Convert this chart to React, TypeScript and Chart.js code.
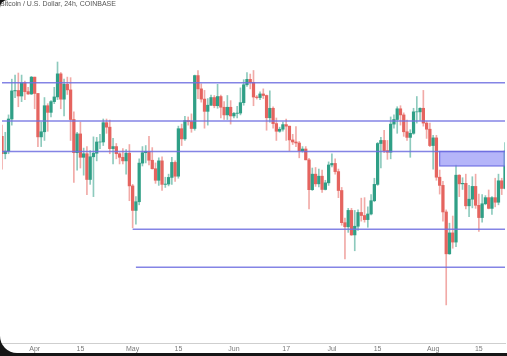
import React, { useEffect, useRef } from 'react';
import { Chart, registerables } from 'chart.js';

Chart.register(...registerables);

const TITLE = 'Bitcoin / U.S. Dollar, 24h, COINBASE';
const START_DATE = '2024-03-22';
const DAY_COUNT = 155;

// Daily OHLC, Mar 22 .. Aug 23
const opens = [
  65500, 63800, 64050, 67200, 69950, 69990, 69450, 70750, 69880, 69650,
  71300, 69700, 65450, 65950, 68500, 67850, 68900, 69360, 71620, 69140,
  70600, 70050, 67150, 63900, 65740, 63450, 63800, 61280, 63500, 63850,
  64950, 64950, 66840, 66400, 64300, 64500, 63800, 63450, 63100, 63850,
  60650, 58250, 59100, 62880, 63900, 64030, 63160, 62330, 61200, 63100,
  60800, 60830, 61480, 62950, 61600, 66250, 65250, 67050, 66950, 66270,
  71450, 70150, 69150, 67950, 68550, 69300, 68500, 69400, 68350, 67600,
  68350, 67500, 67750, 67780, 68800, 70550, 71080, 70780, 69350, 69300,
  69650, 69500, 67320, 68250, 66750, 66000, 66200, 66650, 66500, 65150,
  64950, 64850, 64100, 64260, 63200, 60280, 61800, 60850, 61600, 60300,
  60950, 62700, 62850, 62050, 60200, 57050, 56650, 58250, 55850, 56700,
  58050, 57750, 57350, 57900, 59200, 60800, 64800, 65100, 64100, 63950,
  66700, 67150, 68200, 67600, 65950, 65400, 65800, 67900, 67900, 68250,
  66800, 66200, 64600, 65350, 61500, 60700, 58100, 54000, 56050, 55150,
  61700, 60850, 60900, 58700, 59350, 60600, 58750, 57550, 58900, 59500,
  58450, 59500, 59050, 61150, 60400,
];
const highs = [
  66600, 65900, 67600, 71100, 71500, 71700, 71500, 70900, 70300, 71370,
  71300, 69700, 66900, 69300, 68700, 69000, 70300, 72780, 71750, 71100,
  71300, 71250, 67900, 65900, 66900, 64350, 64500, 64100, 65450, 65400,
  65700, 67200, 67200, 67100, 65300, 64800, 63900, 64300, 64200, 64700,
  60800, 59600, 63300, 64500, 64600, 65500, 64400, 62900, 63400, 63500,
  61500, 61800, 63450, 63100, 66500, 66700, 67450, 67400, 67700, 71500,
  71950, 70650, 70000, 69200, 69550, 69500, 70600, 69550, 68900, 69500,
  69000, 67850, 68450, 70250, 71050, 71750, 71600, 71950, 69500, 69850,
  70150, 69550, 69950, 68400, 67300, 66400, 66900, 67200, 66500, 65700,
  66450, 65000, 64500, 64500, 63350, 62400, 62450, 62300, 62200, 61200,
  63000, 63800, 63300, 62300, 60500, 57500, 58450, 58450, 58250, 58300,
  59450, 59500, 58600, 59800, 61400, 64900, 65400, 66100, 65100, 67400,
  67600, 68400, 68500, 67800, 67100, 66150, 68250, 69400, 68300, 70000,
  66950, 66800, 65600, 65600, 62200, 61100, 58300, 57000, 57700, 62700,
  61750, 61450, 61800, 60700, 61550, 61800, 59850, 59800, 59700, 60250,
  59600, 61400, 61800, 61400, 64900,
];
const lows = [
  62300, 63300, 63800, 66600, 69300, 68400, 68900, 69100, 69600, 69600,
  68200, 64500, 64500, 65100, 66000, 67400, 68700, 69100, 68200, 67500,
  69600, 65100, 61000, 62200, 62400, 61700, 59800, 60800, 59600, 63100,
  64300, 64600, 65800, 63800, 62800, 63300, 62800, 62800, 61800, 59200,
  56550, 56900, 58800, 62600, 62900, 62700, 62300, 60900, 60700, 60200,
  60500, 60650, 60800, 61100, 61400, 64600, 65100, 66600, 65900, 66100,
  69200, 68850, 66300, 66600, 68500, 68300, 68250, 67300, 67150, 67150,
  66700, 67300, 67300, 67600, 68550, 70400, 70150, 68500, 69150, 69100,
  69200, 66100, 66900, 66300, 65100, 65900, 66000, 65100, 64100, 64700,
  64500, 63400, 63950, 63200, 58400, 60200, 60600, 60550, 60000, 60250,
  60700, 62500, 61800, 59500, 56800, 53500, 56100, 55800, 54300, 56300,
  57200, 57100, 56600, 57800, 59100, 60700, 62400, 63900, 63250, 63300,
  66300, 65800, 66600, 65500, 65100, 63450, 65700, 66800, 67050, 66500,
  65300, 64500, 62300, 61200, 59850, 57200, 49000, 53950, 54550, 54700,
  59600, 60300, 58400, 57650, 58500, 58450, 56200, 57100, 58800, 58400,
  57850, 58600, 58800, 59800, 60350,
];
const closes = [
  63800, 64050, 67200, 69950, 69990, 69450, 70750, 69880, 69650, 71300,
  69700, 65450, 65950, 68500, 67850, 68900, 69360, 71620, 69140, 70600,
  70050, 67150, 63900, 65740, 63450, 63800, 61280, 63500, 63850, 64950,
  64950, 66840, 66400, 64300, 64500, 63800, 63450, 63100, 63850, 60650,
  58250, 59100, 62880, 63900, 64030, 63160, 62330, 61200, 63100, 60800,
  60830, 61480, 62950, 61600, 66250, 65250, 67050, 66950, 66270, 71450,
  70150, 69150, 67950, 68550, 69300, 68500, 69400, 68350, 67600, 68350,
  67500, 67750, 67780, 68800, 70550, 71080, 70780, 69350, 69300, 69650,
  69500, 67320, 68250, 66750, 66000, 66200, 66650, 66500, 65150, 64950,
  64850, 64100, 64260, 63200, 60280, 61800, 60850, 61600, 60300, 60950,
  62700, 62850, 62050, 60200, 57050, 56650, 58250, 55850, 56700, 58050,
  57750, 57350, 57900, 59200, 60800, 64800, 65100, 64100, 63950, 66700,
  67150, 68200, 67600, 65950, 65400, 65800, 67900, 67900, 68250, 66800,
  66200, 64600, 65350, 61500, 60700, 58100, 54000, 56050, 55150, 61700,
  60850, 60900, 58700, 59350, 60600, 58750, 57550, 58900, 59500, 58450,
  59500, 59050, 61150, 60400, 64050,
];

// Horizontal levels drawn on the chart
const levelPrices = [70750, 67000, 64020, 56400, 52680];
const levelStartDates = [null, null, null, '2024-05-01', '2024-05-02'];
const zoneTop = 64020;
const zoneBottom = 62600;
const zoneStartDate = '2024-08-03';

// X-axis tick labels
const tickDates = ['2024-04-01', '2024-04-15', '2024-05-01', '2024-05-15', '2024-06-01', '2024-06-17', '2024-07-01', '2024-07-15', '2024-08-01', '2024-08-15'];
const tickLabels = ['Apr', '15', 'May', '15', 'Jun', '17', 'Jul', '15', 'Aug', '15'];

const Y_MIN = 45270;
const Y_MAX = 78850;

function buildDates(start: string, n: number): string[] {
  const out: string[] = [];
  const t0 = Date.parse(start + 'T00:00:00Z');
  for (let i = 0; i < n; i++) {
    out.push(new Date(t0 + i * 86400000).toISOString().slice(0, 10));
  }
  return out;
}

const UP = '#2f9f86';
const DOWN = '#e5645f';
const UP_WICK = 'rgba(47,159,134,0.55)';
const DOWN_WICK = 'rgba(229,100,95,0.55)';

export default function App() {
  const ref = useRef<HTMLCanvasElement | null>(null);

  useEffect(() => {
    document.body.style.margin = '0';
    const labels = buildDates(START_DATE, DAY_COUNT);
    const up = closes.map((c, i) => c >= opens[i]);

    const levelPlugin = {
      id: 'levels',
      afterDatasetsDraw(chart: any) {
        const { ctx, chartArea, scales } = chart;
        const xs = scales.x;
        const ys = scales.y;
        ctx.save();
        ctx.beginPath();
        ctx.rect(chartArea.left, chartArea.top, chartArea.right - chartArea.left, chartArea.bottom - chartArea.top);
        ctx.clip();
        const zx = xs.getPixelForValue(labels.indexOf(zoneStartDate));
        const zt = ys.getPixelForValue(zoneTop);
        const zb = ys.getPixelForValue(zoneBottom);
        ctx.fillStyle = 'rgba(150,150,246,0.7)';
        ctx.fillRect(zx, zt, chartArea.right - zx, zb - zt);
        ctx.strokeStyle = 'rgba(105,105,225,0.9)';
        ctx.lineWidth = 1.2;
        ctx.strokeRect(zx, zt, chartArea.right - zx + 2, zb - zt);
        ctx.strokeStyle = 'rgba(110,110,225,0.85)';
        ctx.lineWidth = 1.4;
        levelPrices.forEach((p, i) => {
          const yy = ys.getPixelForValue(p);
          const sd = levelStartDates[i];
          const x0 = sd ? xs.getPixelForValue(labels.indexOf(sd)) : chartArea.left;
          ctx.beginPath();
          ctx.moveTo(x0, yy);
          ctx.lineTo(chartArea.right, yy);
          ctx.stroke();
        });
        ctx.restore();
      },
    };

    const chart = new Chart(ref.current as HTMLCanvasElement, {
      type: 'bar',
      data: {
        labels,
        datasets: [
          {
            label: 'body',
            data: opens.map((o, i) => [o, closes[i]]) as any,
            backgroundColor: up.map((u) => (u ? UP : DOWN)),
            barThickness: 2.6,
            grouped: false,
            borderWidth: 0,
            borderSkipped: false,
            order: 0,
          } as any,
          {
            label: 'wick',
            data: lows.map((l, i) => [l, highs[i]]) as any,
            backgroundColor: up.map((u) => (u ? UP_WICK : DOWN_WICK)),
            barThickness: 1,
            grouped: false,
            borderWidth: 0,
            borderSkipped: false,
            order: 1,
          } as any,
        ],
      },
      options: {
        animation: false,
        responsive: false,
        layout: { padding: 0 },
        plugins: {
          legend: { display: false },
          title: { display: false },
          tooltip: { enabled: false },
        },
        scales: {
          x: {
            type: 'category',
            offset: false,
            grid: { display: false, drawTicks: false },
            border: { display: true, color: '#cfcfcf', width: 1 },
            ticks: {
              autoSkip: false,
              maxRotation: 0,
              padding: 2,
              color: '#7a7a7a',
              font: { size: 7, family: 'Liberation Sans, Arial, sans-serif' },
              callback: function (this: any, value: any) {
                const d = this.getLabelForValue(value);
                const k = tickDates.indexOf(d);
                return k >= 0 ? tickLabels[k] : '';
              },
            },
            afterFit: (scale: any) => {
              scale.height = 10;
            },
          },
          y: {
            display: false,
            min: Y_MIN,
            max: Y_MAX,
          },
        },
      },
      plugins: [levelPlugin],
    });
    return () => chart.destroy();
  }, []);

  return (
    <div style={{ position: 'relative', width: 507, height: 356, background: '#161616', overflow: 'hidden' }}>
      <div
        style={{
          position: 'absolute',
          left: 0,
          top: 0,
          width: 507,
          height: 353,
          background: '#ffffff',
          borderRadius: '8px 0 0 17px',
          overflow: 'hidden',
        }}
      >
        <canvas ref={ref} width={507} height={353} style={{ display: 'block' }} />
        <div
          style={{
            position: 'absolute',
            left: 0,
            top: 0,
            fontSize: 7,
            lineHeight: '8px',
            fontFamily: 'Liberation Sans, Arial, sans-serif',
            color: '#555',
            whiteSpace: 'nowrap',
          }}
        >
          {TITLE}
        </div>
      </div>
    </div>
  );
}
